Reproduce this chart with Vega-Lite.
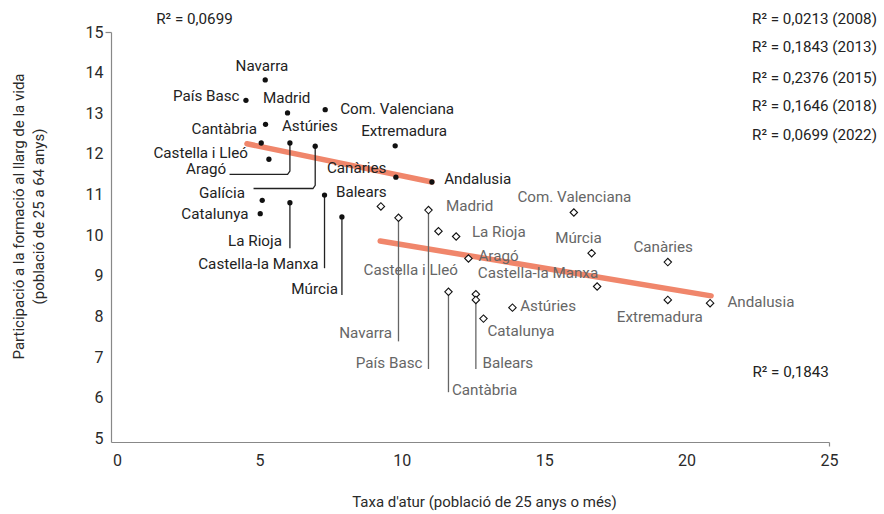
{
  "$schema": "https://vega.github.io/schema/vega-lite/v6.json",
  "width": 718,
  "height": 410,
  "autosize": {"type": "none"},
  "padding": {"left": 111, "top": 32, "right": 55, "bottom": 72},
  "background": "white",
  "config": {"view": {"stroke": null}, "font": "Roboto"},
  "datasets": {
    "points": [
      {"region": "Navarra", "series": "2022", "x": 5.205, "y": 13.82},
      {"region": "País Basc", "series": "2022", "x": 4.528, "y": 13.32},
      {"region": "Madrid", "series": "2022", "x": 5.988, "y": 13.01},
      {"region": "Com. Valenciana", "series": "2022", "x": 7.311, "y": 13.09},
      {"region": "Cantàbria", "series": "2022", "x": 5.216, "y": 12.73},
      {"region": "Castella i Lleó", "series": "2022", "x": 5.065, "y": 12.27},
      {"region": "Aragó", "series": "2022", "x": 6.072, "y": 12.27},
      {"region": "Galícia", "series": "2022", "x": 6.96, "y": 12.19},
      {"region": "Astúries", "series": "2022", "x": 5.335, "y": 11.87},
      {"region": "Extremadura", "series": "2022", "x": 9.768, "y": 12.2},
      {"region": "Canàries", "series": "2022", "x": 9.793, "y": 11.43},
      {"region": "Andalusia", "series": "2022", "x": 11.057, "y": 11.31},
      {"region": "Castella-la Manxa", "series": "2022", "x": 7.287, "y": 10.99},
      {"region": "Balears", "series": "2022", "x": 5.1, "y": 10.86},
      {"region": "Catalunya", "series": "2022", "x": 5.03, "y": 10.53},
      {"region": "La Rioja", "series": "2022", "x": 6.072, "y": 10.8},
      {"region": "Múrcia", "series": "2022", "x": 7.898, "y": 10.45},
      {"region": "Galícia", "series": "2013", "x": 9.266, "y": 10.71},
      {"region": "Navarra", "series": "2013", "x": 9.884, "y": 10.43},
      {"region": "País Basc", "series": "2013", "x": 10.937, "y": 10.62},
      {"region": "Madrid", "series": "2013", "x": 11.288, "y": 10.1},
      {"region": "La Rioja", "series": "2013", "x": 11.909, "y": 9.97},
      {"region": "Aragó", "series": "2013", "x": 12.341, "y": 9.43},
      {"region": "Cantàbria", "series": "2013", "x": 11.639, "y": 8.61},
      {"region": "Castella i Lleó", "series": "2013", "x": 12.601, "y": 8.55},
      {"region": "Balears", "series": "2013", "x": 12.601, "y": 8.41},
      {"region": "Astúries", "series": "2013", "x": 13.886, "y": 8.22},
      {"region": "Catalunya", "series": "2013", "x": 12.868, "y": 7.95},
      {"region": "Com. Valenciana", "series": "2013", "x": 16.041, "y": 10.56},
      {"region": "Múrcia", "series": "2013", "x": 16.666, "y": 9.56},
      {"region": "Castella-la Manxa", "series": "2013", "x": 16.859, "y": 8.74},
      {"region": "Canàries", "series": "2013", "x": 19.34, "y": 9.34},
      {"region": "Extremadura", "series": "2013", "x": 19.34, "y": 8.41},
      {"region": "Andalusia", "series": "2013", "x": 20.825, "y": 8.33}
    ],
    "trends": [
      {"series": "2022", "ord": 1, "x": 4.563, "y": 12.25},
      {"series": "2022", "ord": 2, "x": 11.057, "y": 11.31},
      {"series": "2013", "ord": 1, "x": 9.242, "y": 9.86},
      {"series": "2013", "ord": 2, "x": 20.86, "y": 8.51}
    ],
    "leaders": [
      {"id": "Aragó 2022", "series": "2022", "ord": 1, "x": 3.952, "y": 11.5},
      {"id": "Aragó 2022", "series": "2022", "ord": 2, "x": 5.99, "y": 11.5},
      {"id": "Aragó 2022", "series": "2022", "ord": 3, "x": 6.072, "y": 11.58},
      {"id": "Aragó 2022", "series": "2022", "ord": 4, "x": 6.072, "y": 12.24},
      {"id": "Galícia 2022", "series": "2022", "ord": 1, "x": 4.795, "y": 11.15},
      {"id": "Galícia 2022", "series": "2022", "ord": 2, "x": 6.88, "y": 11.15},
      {"id": "Galícia 2022", "series": "2022", "ord": 3, "x": 6.96, "y": 11.23},
      {"id": "Galícia 2022", "series": "2022", "ord": 4, "x": 6.96, "y": 12.15},
      {"id": "La Rioja 2022", "series": "2022", "ord": 1, "x": 6.072, "y": 10.8},
      {"id": "La Rioja 2022", "series": "2022", "ord": 2, "x": 6.072, "y": 9.68},
      {"id": "Castella-la Manxa 2022", "series": "2022", "ord": 1, "x": 7.287, "y": 10.99},
      {"id": "Castella-la Manxa 2022", "series": "2022", "ord": 2, "x": 7.287, "y": 9.19},
      {"id": "Múrcia 2022", "series": "2022", "ord": 1, "x": 7.898, "y": 10.45},
      {"id": "Múrcia 2022", "series": "2022", "ord": 2, "x": 7.898, "y": 8.53},
      {"id": "Navarra 2013", "series": "2013", "ord": 1, "x": 9.884, "y": 10.43},
      {"id": "Navarra 2013", "series": "2013", "ord": 2, "x": 9.884, "y": 7.39},
      {"id": "País Basc 2013", "series": "2013", "ord": 1, "x": 10.937, "y": 10.62},
      {"id": "País Basc 2013", "series": "2013", "ord": 2, "x": 10.937, "y": 6.71},
      {"id": "Cantàbria 2013", "series": "2013", "ord": 1, "x": 11.639, "y": 8.61},
      {"id": "Cantàbria 2013", "series": "2013", "ord": 2, "x": 11.639, "y": 6.14},
      {"id": "Balears 2013", "series": "2013", "ord": 1, "x": 12.601, "y": 8.41},
      {"id": "Balears 2013", "series": "2013", "ord": 2, "x": 12.601, "y": 6.71}
    ],
    "labels_left": [
      {"label": "Madrid", "series": "2022", "x": 5.125, "y": 13.38},
      {"label": "Com. Valenciana", "series": "2022", "x": 7.838, "y": 13.11},
      {"label": "Astúries", "series": "2022", "x": 5.792, "y": 12.7},
      {"label": "Extremadura", "series": "2022", "x": 8.575, "y": 12.56},
      {"label": "Canàries", "series": "2022", "x": 7.371, "y": 11.66},
      {"label": "Andalusia", "series": "2022", "x": 11.488, "y": 11.38},
      {"label": "Balears", "series": "2022", "x": 7.687, "y": 11.06},
      {"label": "Madrid", "series": "2013", "x": 11.548, "y": 10.72},
      {"label": "La Rioja", "series": "2013", "x": 12.461, "y": 10.09},
      {"label": "Castella i Lleó", "series": "2013", "x": 8.656, "y": 9.15},
      {"label": "Aragó", "series": "2013", "x": 12.692, "y": 9.48},
      {"label": "Castella-la Manxa", "series": "2013", "x": 12.671, "y": 9.06},
      {"label": "Astúries", "series": "2013", "x": 14.156, "y": 8.25},
      {"label": "Catalunya", "series": "2013", "x": 13.008, "y": 7.65},
      {"label": "Balears", "series": "2013", "x": 12.833, "y": 6.87},
      {"label": "Cantàbria", "series": "2013", "x": 11.759, "y": 6.2},
      {"label": "Com. Valenciana", "series": "2013", "x": 14.061, "y": 10.95},
      {"label": "Múrcia", "series": "2013", "x": 15.384, "y": 9.93},
      {"label": "Canàries", "series": "2013", "x": 18.133, "y": 9.7},
      {"label": "Extremadura", "series": "2013", "x": 17.55, "y": 7.98},
      {"label": "Andalusia", "series": "2013", "x": 21.433, "y": 8.37}
    ],
    "labels_right": [
      {"label": "País Basc", "series": "2022", "x": 4.303, "y": 13.42},
      {"label": "Cantàbria", "series": "2022", "x": 4.914, "y": 12.62},
      {"label": "Castella i Lleó", "series": "2022", "x": 4.598, "y": 12.03},
      {"label": "Aragó", "series": "2022", "x": 3.836, "y": 11.62},
      {"label": "Galícia", "series": "2022", "x": 4.493, "y": 11.05},
      {"label": "Catalunya", "series": "2022", "x": 4.619, "y": 10.53},
      {"label": "La Rioja", "series": "2022", "x": 5.792, "y": 9.86},
      {"label": "Castella-la Manxa", "series": "2022", "x": 7.076, "y": 9.29},
      {"label": "Múrcia", "series": "2022", "x": 7.757, "y": 8.67},
      {"label": "Navarra", "series": "2013", "x": 9.653, "y": 7.59},
      {"label": "País Basc", "series": "2013", "x": 10.727, "y": 6.87}
    ],
    "labels_center": [
      {"label": "Navarra", "series": "2022", "x": 5.09, "y": 14.16}
    ],
    "notes": [
      {"label": "R² = 0,0699", "x": 1.379, "y": 15.31},
      {"label": "R² = 0,0213 (2008)", "x": 22.299, "y": 15.31},
      {"label": "R² = 0,1843 (2013)", "x": 22.299, "y": 14.62},
      {"label": "R² = 0,2376 (2015)", "x": 22.299, "y": 13.88},
      {"label": "R² = 0,1646 (2018)", "x": 22.299, "y": 13.17},
      {"label": "R² = 0,0699 (2022)", "x": 22.299, "y": 12.46},
      {"label": "R² = 0,1843", "x": 22.31, "y": 6.63}
    ]
  },
  "encoding": {
    "x": {
      "field": "x",
      "type": "quantitative",
      "scale": {"domain": [-0.21, 25], "nice": false, "zero": false},
      "axis": {
        "title": "Taxa d'atur (població de 25 anys o més)",
        "values": [0, 5, 10, 15, 20, 25],
        "grid": false,
        "domainColor": "#888888",
        "domainWidth": 1.2,
        "tickColor": "#888888",
        "tickWidth": 1.2,
        "tickSize": 4,
        "tickOpacity": {"condition": {"test": "datum.value == 25", "value": 1}, "value": 0},
        "labelPadding": 6,
        "labelFlush": false,
        "labelFontSize": 16,
        "labelColor": "#2a2a2a",
        "labelFont": "Roboto",
        "titleFont": "Roboto",
        "titleFontSize": 15,
        "titleFontWeight": "normal",
        "titleColor": "#2a2a2a",
        "titleX": 373,
        "titleY": 59,
        "titleBaseline": "middle"
      }
    },
    "y": {
      "field": "y",
      "type": "quantitative",
      "scale": {"domain": [4.915, 15], "nice": false, "zero": false},
      "axis": {
        "title": ["Participació a la formació al llarg de la vida", "(població de 25 a 64 anys)"],
        "values": [5, 6, 7, 8, 9, 10, 11, 12, 13, 14, 15],
        "grid": false,
        "domainColor": "#888888",
        "domainWidth": 1.2,
        "tickColor": "#888888",
        "tickWidth": 1.2,
        "tickSize": 6,
        "tickOpacity": {"condition": {"test": "datum.value == 15", "value": 1}, "value": 0},
        "labelPadding": 2,
        "labelFlush": false,
        "labelFontSize": 16,
        "labelColor": "#2a2a2a",
        "labelFont": "Roboto",
        "titleFont": "Roboto",
        "titleFontSize": 15,
        "titleFontWeight": "normal",
        "titleColor": "#2a2a2a",
        "titleLineHeight": 20,
        "titleX": -84.5,
        "titleY": 184,
        "titleBaseline": "bottom"
      }
    }
  },
  "layer": [
    {
      "data": {"name": "trends"},
      "mark": {"type": "line", "color": "#F0866B", "strokeWidth": 5.5, "strokeCap": "round"},
      "encoding": {
        "detail": {"field": "series"},
        "order": {"field": "ord", "type": "quantitative"}
      }
    },
    {
      "data": {"name": "leaders"},
      "mark": {"type": "line", "strokeWidth": 1.3},
      "encoding": {
        "detail": {"field": "id"},
        "order": {"field": "ord", "type": "quantitative"},
        "color": {"field": "series", "type": "nominal", "scale": {"domain": ["2022", "2013"], "range": ["#222222", "#666666"]}, "legend": null}
      }
    },
    {
      "data": {"name": "points"},
      "transform": [{"filter": "datum.series == '2022'"}],
      "mark": {"type": "circle", "color": "#111111", "size": 28, "opacity": 1}
    },
    {
      "data": {"name": "points"},
      "transform": [{"filter": "datum.series == '2013'"}],
      "mark": {"type": "point", "shape": "diamond", "filled": true, "fill": "white", "stroke": "#111111", "strokeWidth": 1.1, "size": 55, "opacity": 1}
    },
    {
      "data": {"name": "labels_left"},
      "mark": {"type": "text", "align": "left", "baseline": "middle", "fontSize": 15.2, "font": "Roboto"},
      "encoding": {
        "text": {"field": "label"},
        "color": {"field": "series", "type": "nominal", "scale": {"domain": ["2022", "2013"], "range": ["#222222", "#666666"]}, "legend": null}
      }
    },
    {
      "data": {"name": "labels_right"},
      "mark": {"type": "text", "align": "right", "baseline": "middle", "fontSize": 15.2, "font": "Roboto"},
      "encoding": {
        "text": {"field": "label"},
        "color": {"field": "series", "type": "nominal", "scale": {"domain": ["2022", "2013"], "range": ["#222222", "#666666"]}, "legend": null}
      }
    },
    {
      "data": {"name": "labels_center"},
      "mark": {"type": "text", "align": "center", "baseline": "middle", "fontSize": 15.2, "font": "Roboto"},
      "encoding": {
        "text": {"field": "label"},
        "color": {"field": "series", "type": "nominal", "scale": {"domain": ["2022", "2013"], "range": ["#222222", "#666666"]}, "legend": null}
      }
    },
    {
      "data": {"name": "notes"},
      "mark": {"type": "text", "align": "left", "baseline": "middle", "fontSize": 15.2, "font": "Roboto", "color": "#222222"},
      "encoding": {
        "text": {"field": "label"}
      }
    }
  ]
}
